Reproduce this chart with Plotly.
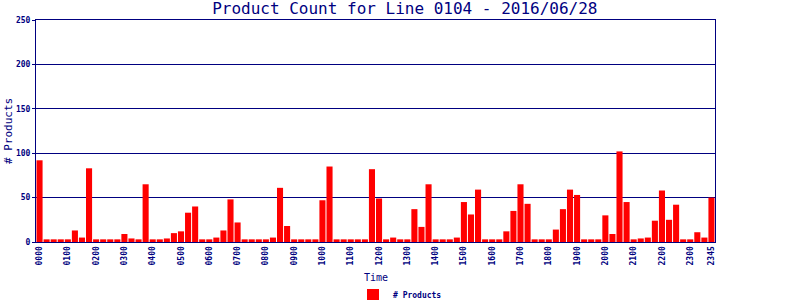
import plotly.graph_objects as go

times = [f"{h:02d}{m:02d}" for h in range(24) for m in (0, 15, 30, 45)]
counts = [
    92, 3, 3, 3, 3, 13, 5, 83,      # 0000-0145
    3, 3, 3, 3, 9, 4, 3, 65,        # 0200-0345
    3, 3, 4, 10, 12, 33, 40, 3,     # 0400-0545
    3, 5, 13, 48, 22, 3, 3, 3,      # 0600-0745
    3, 5, 61, 18, 3, 3, 3, 3,       # 0800-0945
    47, 85, 3, 3, 3, 3, 3, 82,      # 1000-1145
    49, 3, 5, 3, 3, 37, 17, 65,     # 1200-1345
    3, 3, 3, 5, 45, 31, 59, 3,      # 1400-1545
    3, 3, 12, 35, 65, 43, 3, 3,     # 1600-1745
    3, 14, 37, 59, 53, 3, 3, 3,     # 1800-1945
    30, 9, 102, 45, 3, 4, 5, 24,    # 2000-2145
    58, 25, 42, 3, 3, 11, 5, 50,    # 2200-2345
]
tick_vals = [f"{h:02d}00" for h in range(24)] + ["2345"]

NAVY = "#000080"
FONT = "DejaVu Sans Mono"

fig = go.Figure()
fig.add_trace(go.Bar(
    x=times, y=counts, name="# Products",
    marker=dict(color="#FF0000", line=dict(width=0)),
    showlegend=True,
))

fig.update_layout(
    width=800, height=300,
    margin=dict(l=36, r=85, t=20, b=58, autoexpand=False),
    paper_bgcolor="white", plot_bgcolor="white",
    bargap=0.14,
    title=dict(text="Product Count for Line 0104 - 2016/06/28",
               x=0.506, xref="container", xanchor="center", y=0.99, yref="container", yanchor="top",
               font=dict(family=FONT, size=16, color=NAVY)),
    font=dict(family=FONT, color=NAVY),
    showlegend=True,
    legend=dict(orientation="h", x=0.5, xref="container", xanchor="center",
                y=-(295 - 242) / 222, yref="paper", yanchor="middle",
                font=dict(family=FONT, size=8, color=NAVY, weight="bold"),
                itemwidth=30, bgcolor="rgba(0,0,0,0)"),
    annotations=[
        dict(text="Time", xref="paper", x=0.5, yref="paper", y=-(277 - 242) / 222,
             xanchor="center", yanchor="middle", showarrow=False,
             font=dict(family=FONT, size=10, color=NAVY)),
        dict(text="# Products", xref="paper", x=-(36 - 8) / 679, yref="paper", y=0.5,
             xanchor="center", yanchor="middle", showarrow=False, textangle=-90,
             font=dict(family=FONT, size=11, color=NAVY)),
    ],
)
fig.update_xaxes(
    type="category", categoryorder="array", categoryarray=times,
    tickmode="array", tickvals=tick_vals, ticktext=tick_vals,
    tickangle=-90, tickfont=dict(family=FONT, size=8, color=NAVY, weight="bold"),
    showline=True, linecolor=NAVY, linewidth=1, mirror=True,
    showgrid=False, ticks="", automargin=False,
)
fig.update_yaxes(
    range=[0, 250], dtick=50, tick0=0,
    tickfont=dict(family=FONT, size=8, color=NAVY, weight="bold"),
    showline=True, linecolor=NAVY, linewidth=1, mirror=True,
    showgrid=True, gridcolor=NAVY, gridwidth=1,
    ticks="outside", ticklen=3, tickcolor=NAVY,
    zeroline=False, automargin=False,
)

fig.write_html("out.html")
